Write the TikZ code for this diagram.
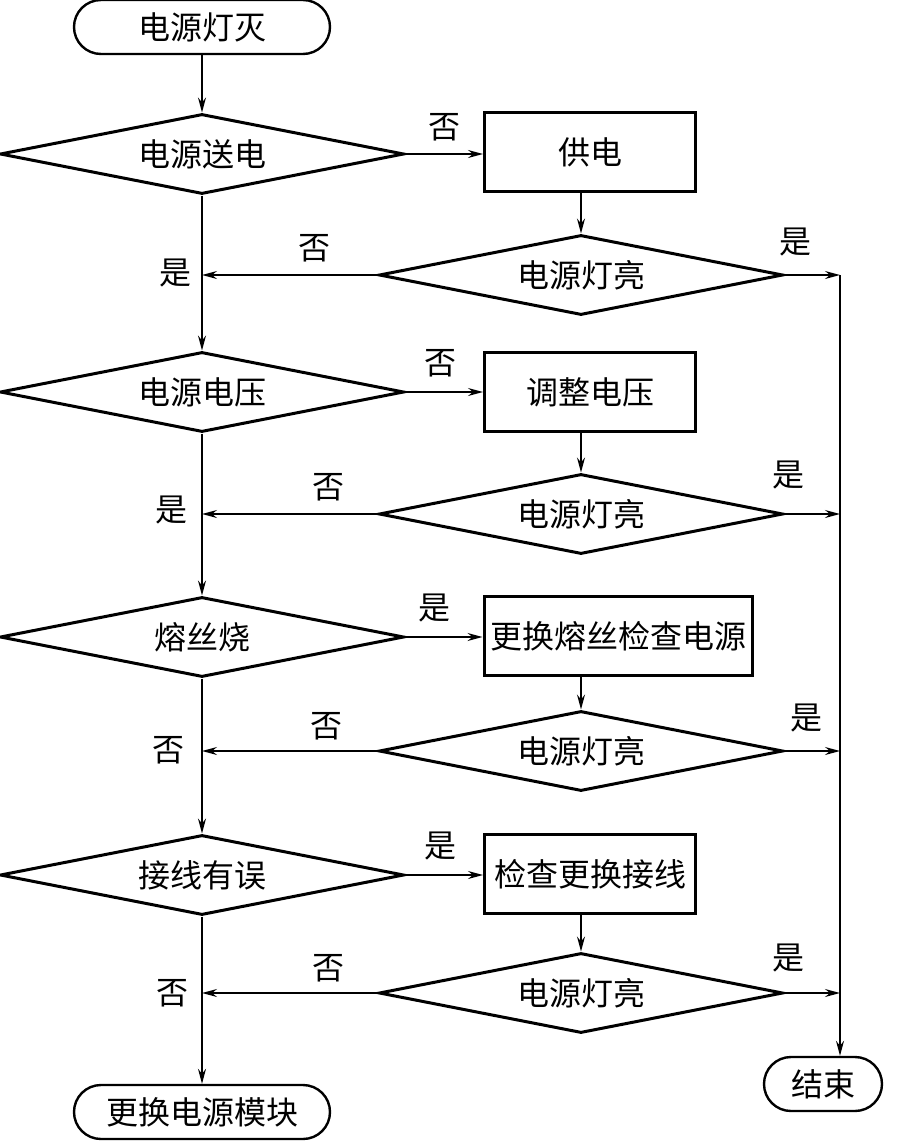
\documentclass[tikz,border=0pt]{standalone}
\usepackage{fontspec}
\newfontfamily\cjk{Noto Sans CJK SC}
\usetikzlibrary{shapes.geometric,arrows.meta}

\begin{document}
\begin{tikzpicture}[x=0.5pt,y=-0.5pt,
  >={Stealth[length=7.5pt,width=4pt,inset=2.5pt]},
  every node/.style={font=\cjk\fontsize{16}{19}\selectfont},
  decision/.style={diamond,draw,line width=1.5pt,inner sep=0pt,aspect=5,
    minimum width=202pt,minimum height=40pt},
  process/.style={rectangle,draw,line width=1.5pt,inner sep=0pt,
    minimum width=105.5pt,minimum height=39.5pt},
  terminal/.style={rectangle,draw,line width=1.2pt,rounded corners=13.5pt,
    inner sep=0pt,minimum width=128pt,minimum height=27pt},
  flow/.style={->,line width=0.7pt},
  lbl/.style={inner sep=0pt}]
  \useasboundingbox (0,0) rectangle (906,1141);
  % left column: main checks
  \node[terminal] (start) at (202,27) {电源灯灭};
  \node[decision] (d1) at (202,154) {电源送电};
  \node[decision] (d2) at (202,392) {电源电压};
  \node[decision] (d3) at (202,637) {熔丝烧};
  \node[decision] (d4) at (202,875) {接线有误};
  \node[terminal] (endrep) at (202,1112) {更换电源模块};
  % middle column: repair steps
  \node[process] (b1) at (590,152) {供电};
  \node[process] (b2) at (590,392) {调整电压};
  \node[process,minimum width=134pt] (b3) at (618,636) {更换熔丝检查电源};
  \node[process] (b4) at (590,874) {检查更换接线};
  % light checks
  \node[decision] (c1) at (581,275) {电源灯亮};
  \node[decision] (c2) at (581,514) {电源灯亮};
  \node[decision] (c3) at (581,751) {电源灯亮};
  \node[decision] (c4) at (581,993) {电源灯亮};
  \node[terminal,minimum width=59pt] (endok) at (823,1084) {结束};
  % right collector line
  \coordinate (j1) at (840,275);
  \coordinate (j2) at (840,514);
  \coordinate (j3) at (840,751);
  \coordinate (j4) at (840,993);
  % main flow
  \draw[flow] (start) -- (d1);
  \draw[flow] (d1) -- (d2);
  \draw[flow] (d2) -- (d3);
  \draw[flow] (d3) -- (d4);
  \draw[flow] (d4) -- (endrep);
  % branches to repair steps
  \draw[flow] (d1.east) -- (b1.west |- d1.east) node[lbl,pos=0.5,above=6pt] {否};
  \draw[flow] (d2.east) -- (b2.west |- d2.east) node[lbl,pos=0.45,above=7pt] {否};
  \draw[flow] (d3.east) -- (b3.west |- d3.east) node[lbl,pos=0.38,above=7pt] {是};
  \draw[flow] (d4.east) -- (b4.west |- d4.east) node[lbl,pos=0.45,above=7pt] {是};
  \foreach \b/\c in {b1/c1,b2/c2,b3/c3,b4/c4}
    \draw[flow] (\b.south -| \c.north) -- (\c.north);
  % back to main line
  \draw[flow] (c1.west) -- (c1.west -| d1.south) node[lbl,pos=0.36,above=6pt] {否};
  \draw[flow] (c2.west) -- (c2.west -| d2.south) node[lbl,pos=0.28,above=6pt] {否};
  \draw[flow] (c3.west) -- (c3.west -| d3.south) node[lbl,pos=0.29,above=5pt] {否};
  \draw[flow] (c4.west) -- (c4.west -| d4.south) node[lbl,pos=0.28,above=5pt] {否};
  \node[lbl] (y1) at (175,273) {是};
  \node[lbl] (y2) at (171,510) {是};
  \node[lbl] (n3) at (168,750) {否};
  \node[lbl] (n4) at (172,993) {否};
  % to the end
  \draw[flow] (c1.east) -- (j1) node[lbl,pos=0.2,above=9pt] {是};
  \draw[flow] (c2.east) -- (j2) node[lbl,pos=0.07,above=12pt] {是};
  \draw[flow] (c3.east) -- (j3) node[lbl,pos=0.4,above=9pt] {是};
  \draw[flow] (c4.east) -- (j4) node[lbl,pos=0.07,above=10pt] {是};
  \draw[flow] (j1) -- (j1 |- endok.north);
\end{tikzpicture}
\end{document}
